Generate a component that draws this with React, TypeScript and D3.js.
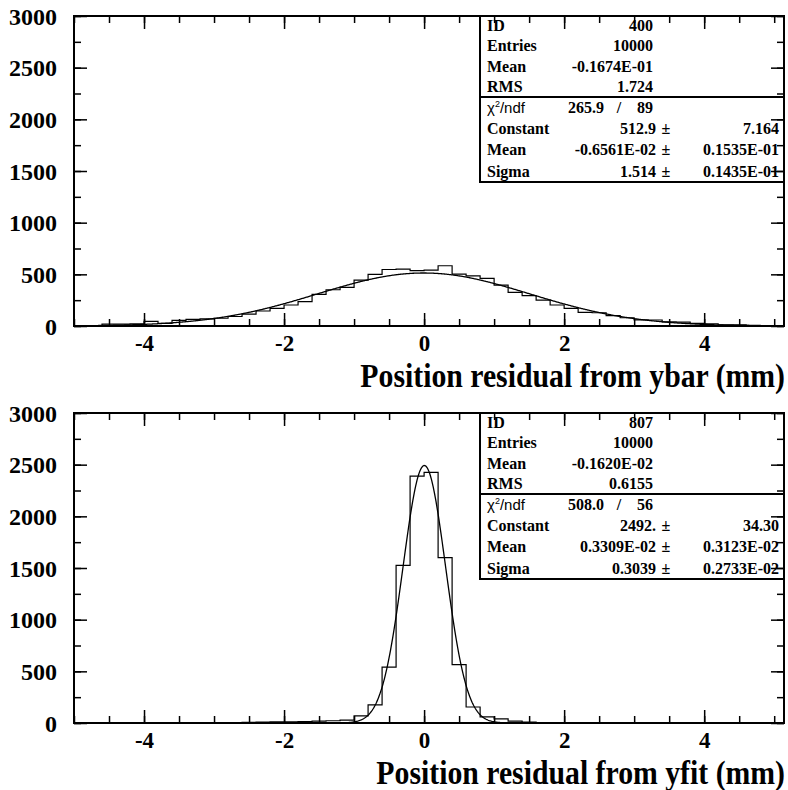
import * as d3 from "d3";
import { useEffect, useRef } from "react";

// histograms: 0.2 wide bins starting at -5
const binStart = -5;
const binWidth = 0.2;

const ybarCounts = [3, 5, 18, 18, 20, 45, 26, 55, 65, 68, 75, 92, 115, 145, 170, 203, 235, 306, 351, 374, 444, 499, 547, 551, 535, 541, 583, 502, 486, 460, 396, 325, 293, 251, 203, 171, 132, 128, 100, 80, 60, 58, 40, 38, 25, 22, 12, 10, 6, 5];
const yfitCounts = [0, 0, 0, 1, 0, 1, 1, 2, 2, 3, 3, 4, 6, 8, 12, 10, 14, 18, 22, 28, 68, 175, 540, 1525, 2390, 2425, 1600, 565, 155, 60, 40, 18, 8, 5, 3, 3, 2, 2, 1, 1, 1, 0, 1, 0, 0, 0, 0, 0, 0, 0];

// gaussian fit: constant, mean, sigma
const ybarFit = [512.9, -0.6561e-2, 1.514];
const yfitFit = [2492, 0.3309e-2, 0.3039];

const statLabels = ["ID", "Entries", "Mean", "RMS"];
const ybarStats = ["400", "10000", "-0.1674E-01", "1.724"];
const yfitStats = ["807", "10000", "-0.1620E-02", "0.6155"];

const ybarChi = ["265.9", "89"];
const yfitChi = ["508.0", "56"];

const fitLabels = ["Constant", "Mean", "Sigma"];
const ybarFitValues = ["512.9", "-0.6561E-02", "1.514"];
const ybarFitErrors = ["7.164", "0.1535E-01", "0.1435E-01"];
const yfitFitValues = ["2492.", "0.3309E-02", "0.3039"];
const yfitFitErrors = ["34.30", "0.3123E-02", "0.2733E-02"];

const titles = ["Position residual from ybar (mm)", "Position residual from yfit (mm)"];
const xMajor = [-4, -2, 0, 2, 4];
const xMinor = d3.range(-5, 5.01, 0.5);
const yMajor = [0, 500, 1000, 1500, 2000, 2500, 3000];
const yMinor = d3.range(0, 3001, 250);

const serif = "'Liberation Serif', 'Times New Roman', serif";
const sans = "'Liberation Sans', Arial, sans-serif";

function drawPanel(svg, offset, idx, counts, fit, stats, chi, fitValues, fitErrors, title) {
  const g = svg.append("g").attr("transform", `translate(0,${offset})`);
  const x = d3.scaleLinear().domain([-5, 5.14]).range([74, 784]);
  const y = d3.scaleLinear().domain([0, 3000]).range([326, 16]);

  // stats box
  const bx = 480, by = y(3000), bw = 784 - 480, bh = 166;
  g.append("rect").attr("x", bx).attr("y", by).attr("width", bw).attr("height", bh)
    .attr("fill", "white").attr("stroke", "black").attr("stroke-width", 2);
  g.append("line").attr("x1", bx).attr("x2", bx + bw).attr("y1", by + 81).attr("y2", by + 81)
    .attr("stroke", "black").attr("stroke-width", 2);

  const txt = g.append("g").attr("font-family", serif).attr("font-weight", "bold").attr("font-size", 16);
  statLabels.forEach((l, i) => {
    const yy = by + 15 + 20.3 * i;
    txt.append("text").attr("x", 487).attr("y", yy).text(l);
    txt.append("text").attr("x", 653).attr("y", yy).attr("text-anchor", "end").text(stats[i]);
  });
  const chiY = by + 97;
  const chiT = g.append("text").attr("x", 487).attr("y", chiY).attr("font-family", sans).attr("font-size", 15);
  chiT.append("tspan").text("χ");
  chiT.append("tspan").attr("font-size", 9).attr("dy", -6).text("2");
  chiT.append("tspan").attr("dy", 6).text("/ndf");
  txt.append("text").attr("x", 568).attr("y", chiY).text(chi[0]);
  txt.append("text").attr("x", 619).attr("y", chiY).attr("text-anchor", "middle").text("/");
  txt.append("text").attr("x", 653).attr("y", chiY).attr("text-anchor", "end").text(chi[1]);
  fitLabels.forEach((l, i) => {
    const yy = chiY + 21.2 * (i + 1);
    txt.append("text").attr("x", 487).attr("y", yy).text(l);
    txt.append("text").attr("x", 656).attr("y", yy).attr("text-anchor", "end").text(fitValues[i]);
    txt.append("text").attr("x", 666).attr("y", yy).attr("text-anchor", "middle").text("±");
    txt.append("text").attr("x", 779).attr("y", yy).attr("text-anchor", "end").text(fitErrors[i]);
  });

  // clip to frame
  const clipId = `frame-clip-${idx}`;
  g.append("clipPath").attr("id", clipId).append("rect")
    .attr("x", 74).attr("y", 16).attr("width", 710).attr("height", 310);

  // histogram outline
  const pts = [[binStart, 0]].concat(counts.map((c, i) => [binStart + i * binWidth, c]));
  pts.push([binStart + counts.length * binWidth, counts[counts.length - 1]]);
  pts.push([binStart + counts.length * binWidth, 0]);
  const step = d3.line().x(d => x(d[0])).y(d => y(d[1])).curve(d3.curveStepAfter);
  g.append("path").attr("d", step(pts)).attr("fill", "none").attr("stroke", "black")
    .attr("stroke-width", 1.2).attr("clip-path", `url(#${clipId})`);

  // fit curve
  const [c0, m0, s0] = fit;
  const xs = d3.range(-5, 5.141, 0.01);
  const curve = d3.line().x(v => x(v)).y(v => y(c0 * Math.exp(-0.5 * ((v - m0) / s0) ** 2)));
  g.append("path").attr("d", curve(xs)).attr("fill", "none").attr("stroke", "black")
    .attr("stroke-width", 1.3).attr("clip-path", `url(#${clipId})`);

  // axes
  const styleAxis = a => a.call(s => s.select(".domain").remove())
    .call(s => s.selectAll(".tick line").attr("stroke", "black").attr("stroke-width", 1.5));

  g.append("g").attr("transform", `translate(0,${y(0)})`)
    .call(d3.axisBottom(x).tickValues(xMinor).tickSize(-7).tickFormat(() => "")).call(styleAxis);
  g.append("g").attr("transform", `translate(0,${y(3000)})`)
    .call(d3.axisTop(x).tickValues(xMinor).tickSize(-7).tickFormat(() => "")).call(styleAxis);
  g.append("g").attr("transform", `translate(0,${y(3000)})`)
    .call(d3.axisTop(x).tickValues(xMajor).tickSize(-13).tickFormat(() => "")).call(styleAxis);
  const bottomAxis = g.append("g").attr("transform", `translate(0,${y(0)})`)
    .call(d3.axisBottom(x).tickValues(xMajor).tickSize(-13).tickPadding(0).tickFormat(d3.format("d")))
    .call(styleAxis);
  bottomAxis.selectAll("text")
    .attr("font-family", serif).attr("font-weight", "bold").attr("font-size", 23).attr("fill", "black")
    .attr("y", 0).attr("dy", 0).attr("transform", "translate(0,25)")
    .text(d => (d < 0 ? "-" + Math.abs(d) : d));

  g.append("g").attr("transform", `translate(74,0)`)
    .call(d3.axisLeft(y).tickValues(yMinor).tickSize(-7).tickFormat(() => "")).call(styleAxis);
  g.append("g").attr("transform", `translate(784,0)`)
    .call(d3.axisRight(y).tickValues(yMinor).tickSize(-7).tickFormat(() => "")).call(styleAxis);
  g.append("g").attr("transform", `translate(784,0)`)
    .call(d3.axisRight(y).tickValues(yMajor).tickSize(-13).tickFormat(() => "")).call(styleAxis);
  const leftAxis = g.append("g").attr("transform", `translate(74,0)`)
    .call(d3.axisLeft(y).tickValues(yMajor).tickSize(-13).tickPadding(0).tickFormat(d3.format("d")))
    .call(styleAxis);
  leftAxis.selectAll("text")
    .attr("font-family", serif).attr("font-weight", "bold").attr("font-size", 24).attr("fill", "black")
    .attr("x", 0).attr("dy", 0).attr("transform", "translate(-17,8)");

  // frame
  g.append("rect").attr("x", 74).attr("y", 16).attr("width", 710).attr("height", 310)
    .attr("fill", "none").attr("stroke", "black").attr("stroke-width", 2);

  // axis title
  g.append("text").attr("transform", "translate(785,387) scale(0.875,1)")
    .attr("text-anchor", "end").attr("font-family", serif).attr("font-weight", "bold")
    .attr("font-size", 34).text(title);
}

const App = () => {
  const ref = useRef(null);
  useEffect(() => {
    const svg = d3.select(ref.current);
    svg.selectAll("*").remove();
    drawPanel(svg, 0, 0, ybarCounts, ybarFit, ybarStats, ybarChi, ybarFitValues, ybarFitErrors, titles[0]);
    drawPanel(svg, 397, 1, yfitCounts, yfitFit, yfitStats, yfitChi, yfitFitValues, yfitFitErrors, titles[1]);
  }, []);
  return (
    <svg ref={ref} width={788} height={790}
      style={{ position: "absolute", left: 0, top: 0, background: "white" }} />
  );
};

export default App;
